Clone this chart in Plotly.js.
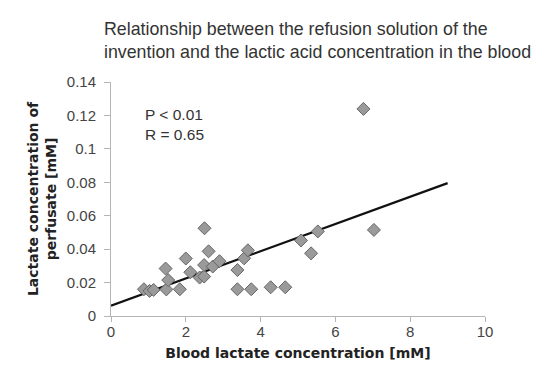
<!DOCTYPE html>
<html>
<head>
<meta charset="utf-8">
<script src="https://cdn.plot.ly/plotly-3.0.1.min.js"></script>
<style>html,body{margin:0;padding:0;background:#fff;}#chart{width:552px;height:378px;}</style>
</head>
<body>
<div id="chart"></div>
<script>
// Blood lactate concentration [mM]
const bloodLactate = [0.88, 1.03, 1.14, 1.46, 1.48, 1.53, 1.84, 2.00, 2.12, 2.37, 2.49, 2.50, 2.49, 2.61, 2.72, 2.90, 3.38, 3.38, 3.56, 3.66, 3.75, 4.27, 4.66, 5.08, 5.35, 5.53, 6.75, 7.03];
// Lactate concentration of perfusate [mM]
const perfusateLactate = [0.016, 0.015, 0.0156, 0.0284, 0.0159, 0.0215, 0.016, 0.0344, 0.0262, 0.023, 0.0236, 0.0525, 0.0305, 0.0387, 0.0296, 0.0328, 0.0275, 0.016, 0.0345, 0.0393, 0.016, 0.0172, 0.0172, 0.0452, 0.0375, 0.0506, 0.1239, 0.0515];
// Regression line end points
const fitX = [0, 9];
const fitY = [0.0062, 0.0795];

const font = "Arial, 'Liberation Sans', sans-serif";
const boldFont = "'DejaVu Sans', Verdana, sans-serif";

const traces = [
  {
    x: fitX, y: fitY, mode: 'lines', type: 'scatter',
    line: {color: '#111', width: 2.2}, hoverinfo: 'skip', showlegend: false
  },
  {
    x: bloodLactate, y: perfusateLactate, mode: 'markers', type: 'scatter',
    marker: {symbol: 'diamond', size: 10, color: '#9a9a9a', line: {color: '#666', width: 1}},
    showlegend: false
  }
];

const layout = {
  width: 552, height: 378,
  margin: {l: 111, r: 67, t: 82, b: 62},
  paper_bgcolor: '#fff', plot_bgcolor: '#fff',
  font: {family: font, color: '#333'},
  title: {
    text: 'Relationship between the refusion solution of the<br>invention and the lactic acid concentration in the blood',
    x: 104/552, xanchor: 'left', xref: 'container', y: 1 - 35/378, yanchor: 'top', yref: 'container',
    font: {size: 17.8, color: '#333', family: font}
  },
  xaxis: {
    range: [0, 10], dtick: 2, tick0: 0,
    showgrid: false, zeroline: false,
    showline: true, linecolor: '#b5b5b5', linewidth: 1,
    ticks: 'outside', ticklen: 5, tickcolor: '#b5b5b5', ticklabelstandoff: -3,
    tickfont: {size: 15, color: '#444', family: font},
    title: {text: '<b>Blood lactate concentration [mM]</b>', standoff: 9, font: {size: 14, color: '#222', family: boldFont}}
  },
  yaxis: {
    range: [0, 0.14], dtick: 0.02, tick0: 0,
    showgrid: false, zeroline: false,
    showline: true, linecolor: '#b5b5b5', linewidth: 1,
    ticks: 'outside', ticklen: 6, tickcolor: '#b5b5b5', ticklabelstandoff: 5,
    tickfont: {size: 15, color: '#444', family: font},
    title: {text: '<b>Lactate concentration of<br>perfusate [mM]</b>', standoff: 6, font: {size: 14, color: '#222', family: boldFont}}
  },
  annotations: [
    {
      text: 'P < 0.01<br>R = 0.65', xref: 'paper', yref: 'paper',
      x: 0, xanchor: 'left', y: 1, yanchor: 'top',
      showarrow: false, align: 'left',
      font: {size: 15.5, color: '#333', family: font}
    }
  ]
};
layout.annotations[0].x = (143 - 111) / (552 - 111 - 67);
layout.annotations[0].y = (316 - 104) / (316 - 82);

Plotly.newPlot('chart', traces, layout, {displayModeBar: false, staticPlot: true});
</script>
</body>
</html>
